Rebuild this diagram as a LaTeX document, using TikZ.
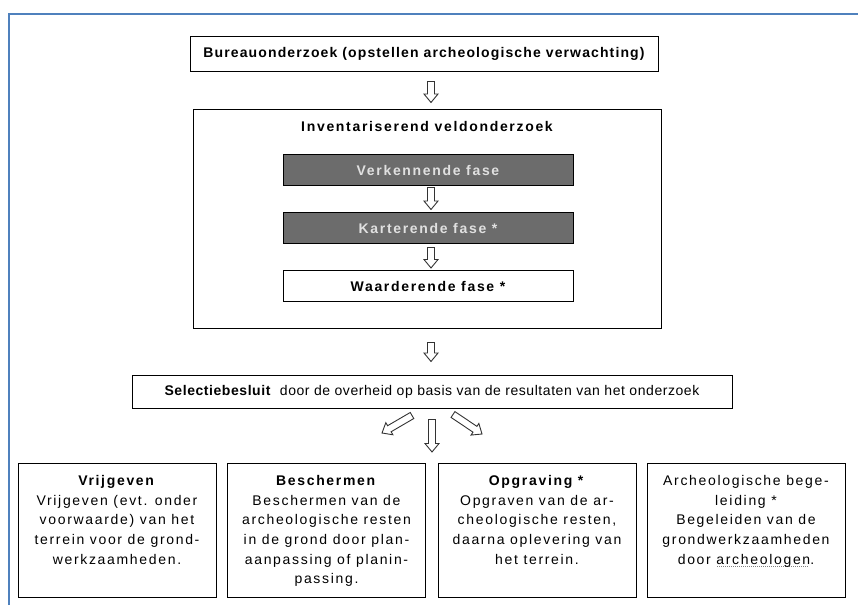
\documentclass[tikz,border=0pt]{standalone}
\usepackage{fontspec}
\setmainfont{Liberation Sans}
\newfontfamily\wijdfont[LetterSpace=12]{Liberation Sans}
\newfontfamily\middelfont[LetterSpace=8]{Liberation Sans}
\newfontfamily\smalfont[LetterSpace=4]{Liberation Sans}
\usetikzlibrary{calc}
\definecolor{kader}{RGB}{79,129,189}
\definecolor{fasegrijs}{RGB}{108,108,108}
\newcommand{\basis}{\fontsize{14}{19.6}\selectfont}
\newcommand{\vakinhoud}[1]{\parbox[t][110pt][t]{194pt}{\centering\wijdfont #1}}
\newcommand{\stippel}[1]{\leavevmode\setbox0\hbox{#1}\rlap{\raisebox{-2.5pt}{\color{gray}\hbox to \wd0{\leaders\hbox to 2pt{\hss\rule{0.9pt}{0.9pt}\hss}\hfill}}}\box0}
\tikzset{
  hol/.style={draw=black!80, fill=white, line width=0.9pt, line join=miter, to path={
    ($(\tikztostart)!3.5pt!90:(\tikztotarget)$)
    -- ($($(\tikztotarget)!8.5pt!(\tikztostart)$)!3.5pt!90:(\tikztotarget)$)
    -- ($($(\tikztotarget)!8.5pt!(\tikztostart)$)!7pt!90:(\tikztotarget)$)
    -- (\tikztotarget)
    -- ($($(\tikztotarget)!8.5pt!(\tikztostart)$)!7pt!-90:(\tikztotarget)$)
    -- ($($(\tikztotarget)!8.5pt!(\tikztostart)$)!3.5pt!-90:(\tikztotarget)$)
    -- ($(\tikztostart)!3.5pt!-90:(\tikztotarget)$) -- cycle}}
}

\begin{document}
\begin{tikzpicture}[x=1pt, y=-1pt, font=\basis,
  vak/.style={draw, line width=1pt, inner sep=0pt},
  fase/.style={vak, minimum width=290, minimum height=31, font=\wijdfont\basis\bfseries},
  uitkomst/.style={vak, minimum width=198, minimum height=134, anchor=north}]
  \useasboundingbox (0,0) rectangle (858,605);
  \draw[kader, line width=2] (9,605) -- (9,14) -- (858,14);

  \node[vak, minimum width=468, minimum height=35, font=\middelfont\basis\bfseries] (bureau) at (424,53.5) {Bureauonderzoek (opstellen archeologische verwachting)};
  \node[vak, minimum width=468, minimum height=219] (inventaris) at (427,218.5) {};
  \node[font=\wijdfont\basis\bfseries] (invtitel) at (427,126) {Inventariserend veldonderzoek};
  \node[fase, fill=fasegrijs, text=black!12] (verkennend) at (428,170) {Verkennende fase};
  \node[fase, fill=fasegrijs, text=black!12] (karterend) at (428,228) {Karterende fase *};
  \node[fase, fill=white] (waarderend) at (428,286) {Waarderende fase *};
  \node[vak, minimum width=600, minimum height=33, font=\smalfont\basis] (selectie) at (432,391.5) {\textbf{Selectiebesluit}\ \ door de overheid op basis van de resultaten van het onderzoek};

  \node[uitkomst] (vrijgeven) at (117,463) {\vakinhoud{\textbf{Vrijgeven}\\ Vrijgeven (evt. onder\\ voorwaarde) van het\\ terrein voor de grond-\\ werkzaamheden.}};
  \node[uitkomst] (beschermen) at (326.5,463) {\vakinhoud{\textbf{Beschermen}\\ Beschermen van de\\ archeologische resten\\ in de grond door plan-\\ aanpassing of planin-\\ passing.}};
  \node[uitkomst] (opgraving) at (537,463) {\vakinhoud{\textbf{Opgraving *}\\ Opgraven van de ar-\\ cheologische resten,\\ daarna oplevering van\\ het terrein.}};
  \node[uitkomst] (begeleiding) at (746,463) {\vakinhoud{Archeologische bege-\\ leiding *\\ Begeleiden van de\\ grondwerkzaamheden\\ door \stippel{archeologen}.}};

  \coordinate (links) at (382,433);
  \coordinate (midden) at (432,452);
  \coordinate (rechts) at (482,434);

  \draw[hol] ([xshift=7,yshift=-10]bureau.south) to ([xshift=4,yshift=6]inventaris.north);
  \draw[hol] ([xshift=3,yshift=-1.5]verkennend.south) to ([xshift=3,yshift=2.5]karterend.north);
  \draw[hol] ([xshift=3,yshift=-3.5]karterend.south) to ([xshift=3,yshift=2]waarderend.north);
  \draw[hol] ([xshift=4,yshift=-14]inventaris.south) to ([xshift=-1,yshift=13]selectie.north);
  \draw[hol] ([xshift=-20,yshift=-7]selectie.south) to (links);
  \draw[hol] ([yshift=-11]selectie.south) to (midden);
  \draw[hol] ([xshift=21,yshift=-6]selectie.south) to (rechts);
\end{tikzpicture}
\end{document}
